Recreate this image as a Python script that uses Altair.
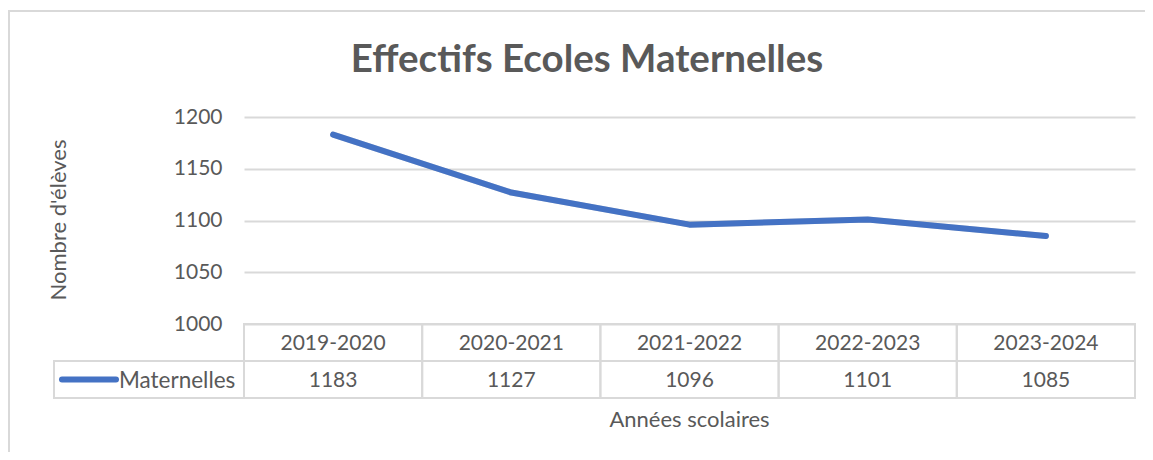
import altair as alt
import pandas as pd

years = ["2019-2020", "2020-2021", "2021-2022", "2022-2023", "2023-2024"]
values = [1183, 1127, 1096, 1101, 1085]
y_ticks = [1000, 1050, 1100, 1150, 1200]
series_name = "Maternelles"
title_text = "Effectifs Ecoles Maternelles"
y_title = "Nombre d'élèves"
x_title = "Années scolaires"

df = pd.DataFrame({"year": years, "value": values, "label": [str(v) for v in values]})

FONT = "Lato"
TXT = "#595959"
GRID = "#D9D9D9"
BLUE = "#4472C4"

W, H = 891, 207
ROW = 37

xscale = alt.Scale(type="band", domain=years, paddingInner=0, paddingOuter=0)
yscale = alt.Scale(domain=[1000, 1200], nice=False, zero=False)
xenc_c = alt.X("year:N", scale=xscale, bandPosition=0.5, axis=None)
xenc = alt.X("year:N", scale=xscale, axis=None)

base = alt.Chart(df)

border = base.mark_rect(fill="transparent", stroke=GRID, strokeWidth=2).encode(
    x=alt.value(-235), x2=alt.value(W + 40), y=alt.value(-106), y2=alt.value(H + 200)
)

grid = base.mark_line(opacity=0).encode(
    x=xenc_c,
    y=alt.Y("value:Q", scale=yscale,
            axis=alt.Axis(values=y_ticks, format="d", grid=True, gridColor=GRID, gridWidth=2,
                          domain=False, ticks=False, labelFont=FONT, labelFontSize=21,
                          labelColor=TXT, labelPadding=22, title=None)),
)

shadow = base.mark_line(color="#000000", opacity=0.15, strokeWidth=6, strokeCap="round",
                        strokeJoin="round", dx=2, dy=3).encode(
    x=xenc_c, y=alt.Y("value:Q", scale=yscale),
)

line = base.mark_line(color=BLUE, strokeWidth=6, strokeCap="round", strokeJoin="round").encode(
    x=xenc_c, y=alt.Y("value:Q", scale=yscale),
)

head_cells = base.mark_rect(fill="transparent", stroke=GRID, strokeWidth=2).encode(
    x=xenc, y=alt.value(H), y2=alt.value(H + ROW)
)
val_cells = base.mark_rect(fill="transparent", stroke=GRID, strokeWidth=2).encode(
    x=xenc, y=alt.value(H + ROW), y2=alt.value(H + 2 * ROW)
)
legend_cell = base.mark_rect(fill="transparent", stroke=GRID, strokeWidth=2).encode(
    x=alt.value(-190), x2=alt.value(0), y=alt.value(H + ROW), y2=alt.value(H + 2 * ROW)
)

head_text = base.mark_text(font=FONT, fontSize=21, color=TXT, baseline="middle").encode(
    x=xenc_c, y=alt.value(H + ROW / 2 + 1), text="year:N"
)
val_text = base.mark_text(font=FONT, fontSize=21, color=TXT, baseline="middle").encode(
    x=xenc_c, y=alt.value(H + ROW * 1.5 + 1), text="label:N"
)

leg_df = pd.DataFrame({"name": [series_name]})
leg_line = alt.Chart(leg_df).mark_rule(color=BLUE, strokeWidth=6, strokeCap="round").encode(
    x=alt.value(-182), x2=alt.value(-128), y=alt.value(H + ROW * 1.5)
)
leg_text = alt.Chart(leg_df).mark_text(font=FONT, fontSize=22.5, color=TXT, align="left",
                                        baseline="middle").encode(
    x=alt.value(-125), y=alt.value(H + ROW * 1.5 + 1), text="name:N"
)

t_df = pd.DataFrame({"t": [title_text], "yt": [y_title], "xt": [x_title]})
title = alt.Chart(t_df).mark_text(font=FONT, fontSize=38.5, fontWeight="bold", color=TXT,
                                  baseline="middle").encode(
    x=alt.value(343), y=alt.value(-57), text="t:N"
)
ytitle = alt.Chart(t_df).mark_text(font=FONT, fontSize=22, color=TXT, angle=270,
                                   baseline="middle").encode(
    x=alt.value(-185), y=alt.value(103), text="yt:N"
)
xtitle = alt.Chart(t_df).mark_text(font=FONT, fontSize=22, color=TXT, baseline="middle").encode(
    x=alt.value(W / 2), y=alt.value(303), text="xt:N"
)

chart = alt.layer(
    border, grid, head_cells, val_cells, legend_cell, shadow, line,
    head_text, val_text, leg_line, leg_text, title, ytitle, xtitle
).properties(
    width=W, height=H,
    background="white",
    autosize=alt.AutoSizeParams(type="none"),
    padding={"left": 236, "top": 109, "right": 10, "bottom": 128},
).configure_view(stroke="transparent", strokeWidth=0)

chart.save("out.html", embed_options={"renderer": "svg", "actions": False})
